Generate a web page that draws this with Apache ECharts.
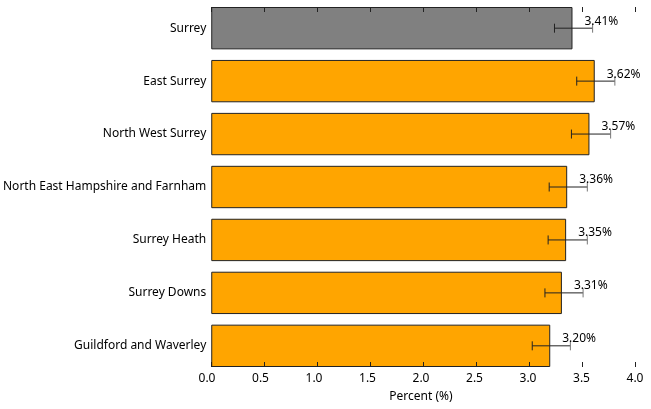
<!DOCTYPE html>
<html>
<head>
<meta charset="utf-8">
<script src="https://cdn.jsdelivr.net/npm/echarts@6/dist/echarts.min.js"></script>
<style>
  html, body { margin: 0; padding: 0; background: #fff; }
  #chart { width: 651px; height: 409px; }
</style>
</head>
<body>
<div id="chart"></div>
<script>
// data
const areas = ['Surrey', 'East Surrey', 'North West Surrey', 'North East Hampshire and Farnham',
    'Surrey Heath', 'Surrey Downs', 'Guildford and Waverley'];
const percents = [3.41, 3.62, 3.57, 3.36, 3.35, 3.31, 3.20];
const errLow = [3.24, 3.45, 3.40, 3.19, 3.18, 3.15, 3.03];
const errHigh = [3.60, 3.81, 3.77, 3.55, 3.55, 3.51, 3.39];
const xTicks = [0, 0.5, 1.0, 1.5, 2.0, 2.5, 3.0, 3.5, 4.0];

const FONT = 'Noto Sans';
const dom = document.getElementById('chart');
const myChart = echarts.init(dom);

// matplotlib puts bars flush against top/bottom: pad the bar grid by half a gap
const plotTop = 7, plotBottom = 367;
const slot = (plotBottom - plotTop) / (areas.length - 1 + 0.8);
const pad = slot * 0.1;

const barData = percents.map((v, i) => ({
    value: v,
    itemStyle: { color: i == 0 ? '#808080' : '#ffa500' }
}));
// error bar rows: value, row, low, high, plus the axis ticks as extra rows (row -1)
const errData = percents.map((v, i) => [v, i, errLow[i], errHigh[i]]);

function renderErr(params, api) {
    const y = api.value(1);
    const c = api.coord([api.value(0), y]);
    const lo = api.coord([api.value(2), y]);
    const hi = api.coord([api.value(3), y]);
    const cap = 4.5;
    const ls = { stroke: '#222', lineWidth: 1 };
    const kids = [
        { type: 'line', shape: { x1: lo[0], y1: lo[1], x2: hi[0], y2: hi[1] }, style: ls },
        { type: 'line', shape: { x1: lo[0], y1: lo[1] - cap, x2: lo[0], y2: lo[1] + cap }, style: ls },
        { type: 'line', shape: { x1: hi[0], y1: hi[1] - cap, x2: hi[0], y2: hi[1] + cap }, style: { stroke: '#777', lineWidth: 1 } },
        {
            type: 'text',
            style: {
                text: api.value(0).toFixed(2) + '%',
                x: c[0] + 12, y: c[1] - 1,
                fill: '#000', font: '12px "' + FONT + '"',
                align: 'left', verticalAlign: 'bottom'
            }
        }
    ];
    // first row also draws the inward ticks on the top and bottom edges
    if (params.dataIndex == 0) {
        const cs = params.coordSys;
        const top = cs.y + pad, bot = cs.y + cs.height - pad;
        xTicks.forEach(t => {
            const x = Math.round(api.coord([t, y])[0]) + 0.5;
            kids.push({ type: 'line', shape: { x1: x, y1: top, x2: x, y2: top + 5 }, style: { stroke: '#222', lineWidth: 1 } });
            kids.push({ type: 'line', shape: { x1: x, y1: bot, x2: x, y2: bot - 5 }, style: { stroke: '#222', lineWidth: 1 } });
        });
    }
    return { type: 'group', children: kids };
}

const option = {
    animation: false,
    textStyle: { fontFamily: FONT },
    grid: [
        { left: 207, right: 16, top: plotTop - pad, height: (plotBottom - plotTop) + 2 * pad },
        { left: 207, right: 16, top: plotTop, bottom: 409 - plotBottom }
    ],
    xAxis: [
        { gridIndex: 0, type: 'value', min: 0, max: 4, show: false },
        {
            gridIndex: 1, type: 'value', min: 0, max: 4, interval: 0.5, position: 'bottom',
            axisLine: { show: false, onZero: false },
            axisTick: { show: false },
            splitLine: { show: false },
            axisLabel: { color: '#000', fontSize: 12, fontFamily: FONT, margin: 6,
                formatter: v => v.toFixed(1) },
            name: 'Percent (%)', nameLocation: 'middle', nameGap: 24,
            nameTextStyle: { color: '#000', fontSize: 12, fontFamily: FONT }
        }
    ],
    yAxis: [
        {
            gridIndex: 0, type: 'category', data: areas, inverse: true,
            axisLine: { show: false }, axisTick: { show: false },
            axisLabel: { color: '#000', fontSize: 12, fontFamily: FONT, margin: 5 }
        },
        { gridIndex: 1, type: 'value', min: 0, max: 1, show: false }
    ],
    series: [
        {
            type: 'bar', xAxisIndex: 0, yAxisIndex: 0, data: barData,
            barCategoryGap: '20%',
            itemStyle: { borderColor: '#222', borderWidth: 1 }
        },
        {
            type: 'custom', xAxisIndex: 0, yAxisIndex: 0, data: errData,
            encode: { x: [0, 2, 3], y: 1 }, clip: false,
            renderItem: renderErr, z: 5
        }
    ]
};
myChart.setOption(option);
</script>
</body>
</html>
